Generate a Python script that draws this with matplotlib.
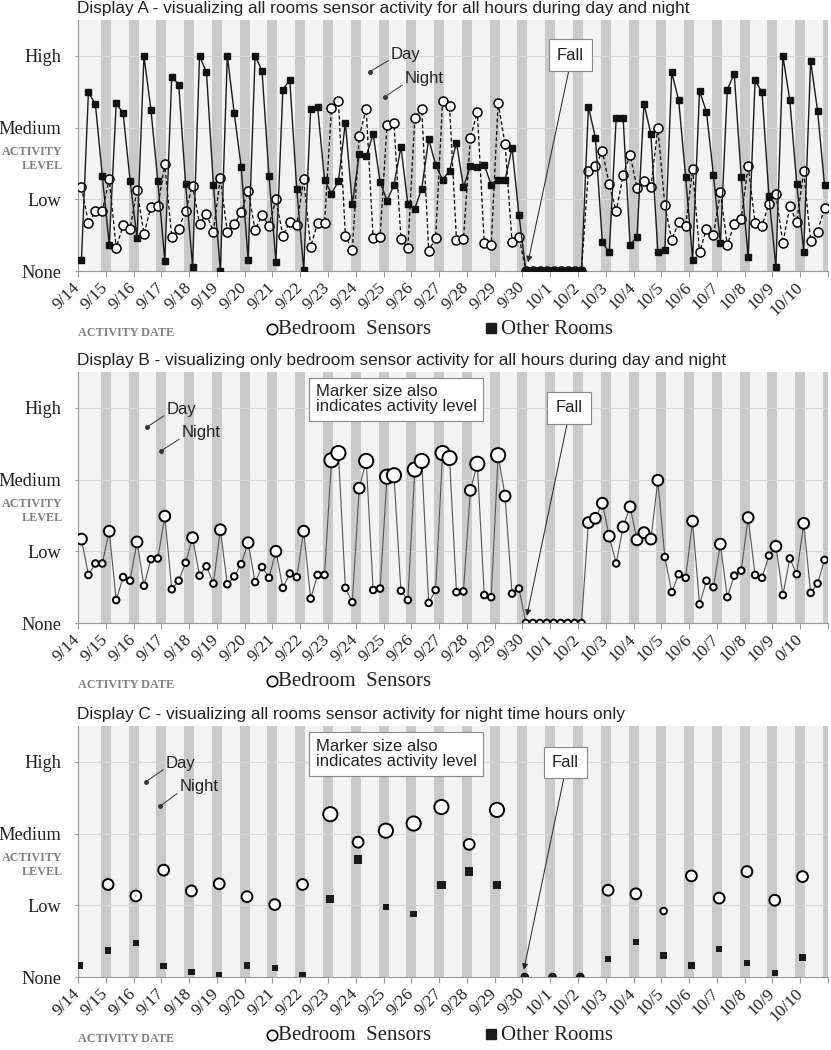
import numpy as np
import matplotlib
matplotlib.use('Agg')
import matplotlib.pyplot as plt
from matplotlib.lines import Line2D

# ---- data ----
dates = ['9/14', '9/15', '9/16', '9/17', '9/18', '9/19', '9/20', '9/21', '9/22',
         '9/23', '9/24', '9/25', '9/26', '9/27', '9/28', '9/29', '9/30', '10/1',
         '10/2', '10/3', '10/4', '10/5', '10/6', '10/7', '10/8', '10/9', '10/10']
dates_b = dates[:-1] + ['0/10']
bin_hours = [3, 9, 15, 21]          # four 6-hour readings per date
night_hour = 2                      # night-only reading

levels = ['None', 'Low', 'Medium', 'High']

bedroom = [1.17, 0.67, 0.83, 0.83, 1.28, 0.32, 0.64, 0.59, 1.13, 0.52, 0.89, 0.90,
           1.49, 0.47, 0.59, 0.84, 1.19, 0.66, 0.79, 0.55, 1.30, 0.54, 0.65, 0.82,
           1.12, 0.57, 0.78, 0.63, 1.00, 0.49, 0.69, 0.64, 1.28, 0.34, 0.67, 0.67,
           2.27, 2.37, 0.49, 0.29, 1.88, 2.26, 0.46, 0.48, 2.04, 2.06, 0.45, 0.32,
           2.14, 2.26, 0.28, 0.46, 2.37, 2.30, 0.43, 0.44, 1.85, 2.22, 0.39, 0.36,
           2.34, 1.77, 0.41, 0.48, 0, 0, 0, 0, 0, 0, 0, 0, 0,
           1.40, 1.46, 1.67, 1.21, 0.83, 1.34, 1.62, 1.16, 1.26, 1.17, 1.99, 0.92,
           0.43, 0.68, 0.63, 1.42, 0.26, 0.59, 0.50, 1.10, 0.36, 0.66, 0.73, 1.47,
           0.67, 0.63, 0.94, 1.07, 0.39, 0.90, 0.68, 1.39, 0.42, 0.55, 0.88]

other = [0.16, 2.49, 2.33, 1.33, 0.36, 2.34, 2.20, 1.26, 0.46, 3.00, 2.25, 1.25,
         0.14, 2.71, 2.60, 1.21, 0.06, 3.00, 2.77, 1.20, 0.00, 3.00, 2.20, 1.45,
         0.16, 3.00, 2.79, 1.33, 0.13, 2.53, 2.66, 1.14, 0.02, 2.26, 2.29, 1.27,
         1.08, 1.25, 2.07, 0.93, 1.63, 1.60, 1.91, 1.24, 0.98, 1.20, 1.73, 0.93,
         0.87, 1.15, 1.84, 1.48, 1.27, 1.40, 1.79, 1.17, 1.46, 1.45, 1.48, 1.20,
         1.27, 1.27, 1.72, 0.78, 0, 0, 0, 0, 0, 0, 0, 0, 0,
         2.29, 1.86, 0.40, 0.26, 2.13, 2.13, 0.36, 0.48, 2.33, 1.91, 0.26, 0.29,
         2.77, 2.38, 1.31, 0.16, 2.51, 2.22, 1.34, 0.39, 2.53, 2.75, 1.31, 0.19,
         2.66, 2.49, 1.04, 0.05, 3.00, 2.38, 1.22, 0.27, 2.93, 2.23, 1.20]

night_bedroom = [np.nan, 1.29, 1.13, 1.49, 1.20, 1.30, 1.12, 1.01, 1.29, 2.27, 1.88,
                 2.04, 2.14, 2.37, 1.85, 2.33, 0, 0, 0, 1.21, 1.16, 0.92, 1.41,
                 1.10, 1.47, 1.07, 1.40]
night_other = [0.16, 0.37, 0.47, 0.15, 0.07, 0.02, 0.16, 0.13, 0.03, 1.09, 1.64,
               0.98, 0.88, 1.28, 1.47, 1.28, 0, 0, 0, 0.25, 0.49, 0.30, 0.16,
               0.39, 0.20, 0.06, 0.27]

titles = ['Display A - visualizing all rooms sensor activity for all hours during day and night',
          'Display B - visualizing only bedroom sensor activity for all hours during day and night',
          'Display C - visualizing all rooms sensor activity for night time hours only']

# ---- figure ----
W, H = 831, 1050
fig = plt.figure(figsize=(W / 100, H / 100), dpi=100)
SERIF = 'Liberation Serif'
SANS = 'Liberation Sans'

times = np.array([d + h / 24 for d in range(len(dates)) for h in bin_hours])
night_t = np.arange(len(dates)) + night_hour / 24
bedroom = np.array(bedroom)
other = np.array(other)
night_bedroom = np.array(night_bedroom)
night_other = np.array(night_other)


def fx(px):
    return px / W


def fy(py):
    return 1 - py / H


def bubble(v):
    d = np.where(v >= 2, 14.2, np.where(v >= 1, 10.8, 6.6))
    return (d * 0.72) ** 2


def panel(top, title, labels, show_other):
    ax = fig.add_axes([fx(78), fy(top + 251), fx(750), 251 / H])
    ax.set_xlim(0, 27)
    ax.set_ylim(0, 3.5)
    ax.set_facecolor('#f3f3f3')
    for d in range(1, 28):
        ax.axvspan(d - 0.18, d + 0.18, color='#c9c9c9', lw=0, zorder=0)
    for y in [1, 2, 3]:
        ax.axhline(y, color='#d6d6d6', lw=0.8, zorder=0.5)
    ax.set_yticks(range(4))
    ax.set_yticklabels(levels, fontfamily=SERIF, fontsize=13.2, color='#222')
    ax.set_xticks(range(28))
    ax.set_xticklabels(labels + [''], fontfamily=SERIF, fontsize=12.5, color='#222',
                       rotation=45, ha='right', va='center', rotation_mode='anchor')
    ax.tick_params(axis='y', length=2, pad=10, color='#999')
    ax.tick_params(axis='x', length=4, pad=6, color='#999')
    for s in ['top', 'right']:
        ax.spines[s].set_visible(False)
    for s in ['left', 'bottom']:
        ax.spines[s].set_color('#999')
        ax.spines[s].set_linewidth(0.8)

    fig.text(fx(77), fy(top - 7), title, fontfamily=SANS, fontsize=12.4,
             color='#222', va='baseline', ha='left')
    fig.text(fx(63), fy(top + 139), 'ACTIVITY\nLEVEL', fontfamily=SERIF,
             fontsize=8.7, fontweight='bold', color='#808080', ha='right',
             va='center', linespacing=1.15)
    fig.text(fx(78), fy(top + 313), 'ACTIVITY DATE', fontfamily=SERIF,
             fontsize=8.7, fontweight='bold', color='#808080', ha='left',
             va='center')
    # legend
    fig.add_artist(Line2D([fx(272)], [fy(top + 309)], transform=fig.transFigure,
                          marker='o', ms=7.5, mfc='white', mec='k', mew=1.2, ls=''))
    fig.text(fx(278), fy(top + 309), 'Bedroom  Sensors', fontfamily=SERIF,
             fontsize=15, color='#222', va='center', ha='left')
    if show_other:
        fig.add_artist(Line2D([fx(491)], [fy(top + 308)], transform=fig.transFigure,
                              marker='s', ms=6.5, mfc='#1a1a1a', mec='#1a1a1a', ls=''))
        fig.text(fx(501), fy(top + 309), 'Other Rooms', fontfamily=SERIF,
                 fontsize=15, color='#222', va='center', ha='left')
    return ax


def day_night(ax, day_dot, day_txt, night_dot, night_txt):
    for dot, txt, label in [(day_dot, day_txt, 'Day'), (night_dot, night_txt, 'Night')]:
        ax.plot(*dot, 'o', ms=2.5, color='#333', zorder=6)
        ax.annotate(label, xy=dot, xytext=txt, fontfamily=SANS, fontsize=12,
                    color='#222', ha='left', va='center', zorder=6,
                    arrowprops=dict(arrowstyle='-', color='#333', lw=0.7,
                                    shrinkA=0, shrinkB=0, relpos=(0.0, 0.2)))


def fall(ax, tip, center):
    ax.annotate('Fall', xy=tip, xytext=center, fontfamily=SANS, fontsize=12,
                color='#222', ha='center', va='center', zorder=7,
                bbox=dict(boxstyle='square,pad=0.5', fc='white', ec='#888', lw=0.8),
                arrowprops=dict(arrowstyle='-|>', color='#222', lw=0.7,
                                mutation_scale=9, shrinkA=0, shrinkB=0,
                                relpos=(0.5, 0.0)))


def size_note(ax, pos):
    ax.text(*pos, 'Marker size also\nindicates activity level', fontfamily=SANS,
            fontsize=12, color='#222', ha='left', va='center', linespacing=1.0,
            zorder=7, bbox=dict(boxstyle='square,pad=0.4', fc='white', ec='#888', lw=0.8))


# Display A
axA = panel(20, titles[0], dates, True)
axA.plot(times, bedroom, ls=(0, (3, 2)), color='k', lw=0.9, marker='o', ms=6.5,
         mfc='white', mec='k', mew=1.1, zorder=3)
axA.plot(times, other, '-', color='#1a1a1a', lw=1.0, marker='s', ms=5,
         mfc='#111', mec='#111', zorder=4)
day_night(axA, (10.51, 2.78), (11.27, 3.02), (11.05, 2.43), (11.77, 2.68))
fall(axA, (16.2, 0.12), (17.73, 3.01))

# Display B
axB = panel(372, titles[1], dates_b, False)
axB.plot(times, bedroom, '-', color='#555', lw=0.8, zorder=2)
axB.scatter(times, bedroom, s=bubble(bedroom), facecolor='white', edgecolor='k',
            lw=1.4, zorder=3)
day_night(axB, (2.48, 2.73), (3.2, 2.98), (2.99, 2.40), (3.74, 2.65))
fall(axB, (16.16, 0.1), (17.67, 3.0))
size_note(axB, (8.55, 3.12))

# Display C
axC = panel(726, titles[2], dates, True)
axC.scatter(night_t, night_bedroom, s=bubble(night_bedroom), facecolor='white',
            edgecolor='k', lw=1.4, zorder=3)
sq = np.where(night_other >= 1, 8.3, 6.3)
axC.scatter(night_t, night_other, s=(sq * 0.72) ** 2, marker='s', color='#1a1a1a',
            lw=0, zorder=4)
day_night(axC, (2.43, 2.72), (3.17, 2.98), (2.95, 2.38), (3.67, 2.65))
fall(axC, (16.05, 0.1), (17.55, 2.99))
size_note(axC, (8.55, 3.11))

fig.savefig('out.png', dpi=100, facecolor='white')
